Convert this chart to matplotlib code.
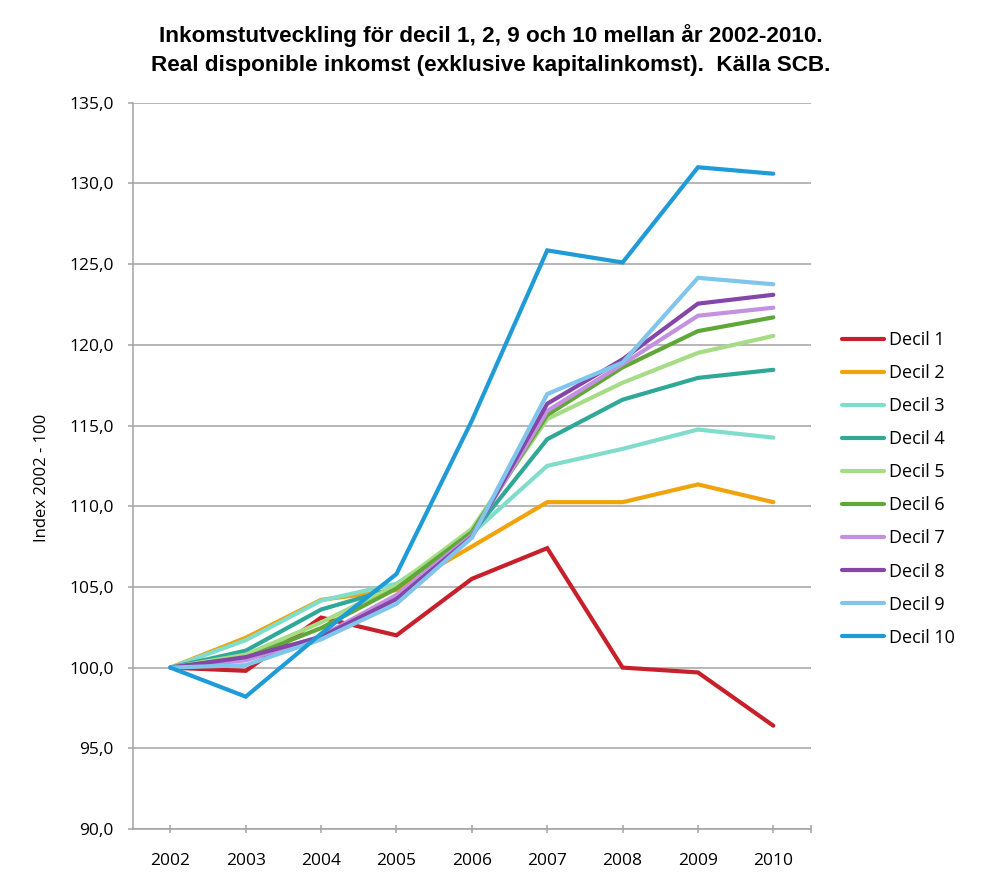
import matplotlib
matplotlib.use("Agg")
import matplotlib.pyplot as plt
from matplotlib.ticker import FixedLocator, FuncFormatter

years = ["2002", "2003", "2004", "2005", "2006", "2007", "2008", "2009", "2010"]
labels = ["Decil 1", "Decil 2", "Decil 3", "Decil 4", "Decil 5",
          "Decil 6", "Decil 7", "Decil 8", "Decil 9", "Decil 10"]
d1 = [100, 99.8, 103.1, 102.0, 105.5, 107.4, 100.0, 99.7, 96.4]
d2 = [100, 101.85, 104.2, 104.8, 107.5, 110.25, 110.25, 111.35, 110.25]
d3 = [100, 101.7, 104.15, 105.2, 108.3, 112.5, 113.55, 114.75, 114.25]
d4 = [100, 101.05, 103.6, 104.95, 108.3, 114.15, 116.6, 117.95, 118.45]
d5 = [100, 100.8, 102.8, 105.1, 108.6, 115.4, 117.65, 119.5, 120.55]
d6 = [100, 100.6, 102.45, 104.9, 108.4, 115.65, 118.6, 120.85, 121.7]
d7 = [100, 100.45, 101.95, 104.5, 108.2, 115.9, 118.8, 121.8, 122.3]
d8 = [100, 100.65, 101.9, 104.25, 108.1, 116.35, 119.1, 122.55, 123.1]
d9 = [100, 100.15, 101.75, 103.95, 108.05, 116.95, 118.9, 124.15, 123.75]
d10 = [100, 98.2, 102.1, 105.8, 115.3, 125.85, 125.1, 131.0, 130.6]
series = [d1, d2, d3, d4, d5, d6, d7, d8, d9, d10]
colors = ["#C8202A", "#F0A30A", "#80DDCC", "#2FA898", "#A6DC86",
          "#5FA838", "#C490E0", "#8546A9", "#80C5EC", "#1F9BD8"]

plt.rcParams['font.family'] = ['Open Sans', 'DejaVu Sans']
W, H = 981, 896
fig = plt.figure(figsize=(W / 100, H / 100), dpi=100)
ax = fig.add_axes([132.7 / W, 1 - 829 / H, (811 - 132.7) / W, (829 - 102.7) / H])

x = list(range(len(years)))
for s, c, lab in zip(series, colors, labels):
    ax.plot(x, s, color=c, lw=3.0, label=lab, solid_capstyle='round',
            solid_joinstyle='miter', zorder=3)

grid_c = "#A3A3A3"
ax.set_xlim(-0.5, len(years) - 0.5)
ax.set_ylim(90, 135)
ax.yaxis.set_major_locator(FixedLocator([90, 95, 100, 105, 110, 115, 120, 125, 130, 135]))
ax.yaxis.set_major_formatter(FuncFormatter(lambda v, p: f"{v:.1f}".replace(".", ",")))
ax.set_xticks(x)
ax.set_xticklabels(years)
ax.xaxis.set_minor_locator(FixedLocator([len(years) - 0.5]))
ax.grid(axis='y', color=grid_c, lw=1.1, zorder=0)
ax.set_axisbelow(True)
for sp in ['top', 'right']:
    ax.spines[sp].set_visible(False)
for sp in ['left', 'bottom']:
    ax.spines[sp].set_color(grid_c)
    ax.spines[sp].set_linewidth(1.1)
ax.tick_params(axis='x', which='both', direction='inout', length=6, width=1.1,
               color=grid_c, labelsize=12.5, pad=14.5)
ax.tick_params(axis='y', direction='out', length=3.5, width=1.1, color=grid_c,
               labelsize=12.5, pad=10)

fig.text(42 / W, 1 - 478 / H, "Index 2002 - 100", rotation=90, ha='center',
         va='center', fontsize=12)

title_fam = ['Liberation Sans', 'DejaVu Sans']
fig.text(491 / W, 1 - 36 / H, "Inkomstutveckling för decil 1, 2, 9 och 10 mellan år 2002-2010.",
         ha='center', va='center', fontsize=16.2, fontweight='bold', family=title_fam)
fig.text(491 / W, 1 - 66 / H, "Real disponible inkomst (exklusive kapitalinkomst).  Källa SCB.",
         ha='center', va='center', fontsize=16.2, fontweight='bold', family=title_fam)

leg = ax.legend(loc='upper left', bbox_to_anchor=(842 / W, 1 - 331 / H),
                bbox_transform=fig.transFigure, frameon=False, fontsize=13,
                handlelength=2.35, handletextpad=0.25, labelspacing=0.835,
                borderpad=0, borderaxespad=0)

fig.savefig("out.png", dpi=100)
